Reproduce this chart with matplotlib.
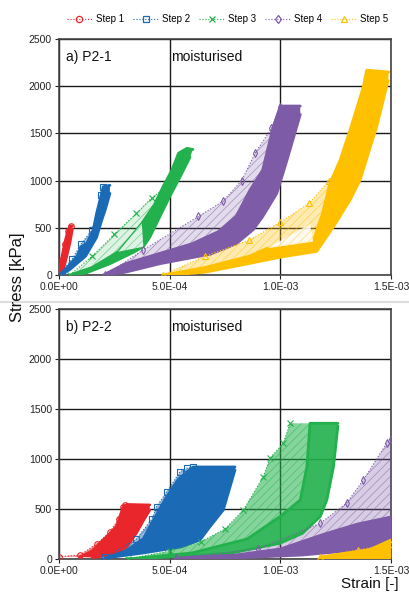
import matplotlib
matplotlib.use("Agg")
import matplotlib.pyplot as plt
from matplotlib.lines import Line2D
from matplotlib.colors import to_rgba

plt.rcParams['font.family'] = ['Liberation Sans', 'DejaVu Sans']
plt.rcParams['hatch.linewidth'] = 0.5

# ---------------- data ----------------
step_names = ["Step 1", "Step 2", "Step 3", "Step 4", "Step 5"]
step_colors = ["#E8262B", "#1B6AB5", "#22B14C", "#7D5BA6", "#FFC000"]
step_markers = ["o", "s", "x", "d", "^"]
panel_labels = ["a) P2-1", "b) P2-2"]
condition = "moisturised"
x_ticks = [0.0, 5.0e-4, 1.0e-3, 1.5e-3]
y_ticks = [0, 500, 1000, 1500, 2000, 2500]

# ---- Panel a) P2-1 ----
# thin: outer loading curve (sparse dotted), up/dn: edges of the dense band
a_s1_thin_x = [0, 1.0e-5, 2.5e-5, 4.0e-5, 5.5e-5]
a_s1_thin_y = [0, 150, 330, 470, 520]
a_s1_up_x = [0, 1.0e-5, 2.5e-5, 4.0e-5, 5.0e-5, 6.0e-5]
a_s1_up_y = [0, 150, 330, 470, 520, 520]
a_s1_dn_x = [6.0e-5, 5.0e-5, 3.5e-5, 2.0e-5, 5.0e-6]
a_s1_dn_y = [480, 350, 200, 60, 0]

a_s2_thin_x = [0, 6.0e-5, 1.0e-4, 1.5e-4, 1.9e-4, 2.0e-4]
a_s2_thin_y = [0, 170, 330, 480, 850, 935]
a_s2_up_x = [0, 3.0e-5, 8.0e-5, 1.0e-4, 1.25e-4, 1.55e-4, 1.7e-4, 1.85e-4, 2.0e-4, 2.3e-4]
a_s2_up_y = [0, 60, 194, 300, 335, 477, 653, 794, 935, 950]
a_s2_dn_x = [2.3e-4, 2.1e-4, 1.9e-4, 1.7e-4, 1.45e-4, 1.2e-4, 9.0e-5, 5.0e-5, 1.0e-5]
a_s2_dn_y = [865, 700, 560, 400, 300, 200, 140, 60, 0]

a_s3_thin_x = [5.0e-5, 1.5e-4, 2.5e-4, 3.5e-4, 4.2e-4, 4.87e-4]
a_s3_thin_y = [0, 200, 430, 653, 820, 935]
a_s3_up_x = [5.0e-5, 1.5e-4, 2.68e-4, 3.3e-4, 3.74e-4, 4.3e-4, 4.7e-4, 5.1e-4, 5.4e-4, 5.78e-4, 6.05e-4]
a_s3_up_y = [0, 80, 247, 420, 547, 740, 935, 1110, 1290, 1342, 1330]
a_s3_dn_x = [5.92e-4, 5.47e-4, 5.0e-4, 4.56e-4, 4.1e-4, 3.81e-4, 3.36e-4, 2.3e-4, 1.2e-4, 6.0e-5]
a_s3_dn_y = [1250, 1040, 830, 620, 400, 300, 240, 120, 20, 0]
a_s3_hole_x = [2.68e-4, 3.74e-4, 3.81e-4]
a_s3_hole_y = [247, 547, 300]

a_s4_thin_x = [2.1e-4, 3.8e-4, 6.3e-4, 7.4e-4, 8.25e-4, 8.86e-4, 9.6e-4, 1.0e-3]
a_s4_thin_y = [0, 265, 620, 780, 1000, 1290, 1555, 1780]
a_s4_up_x = [2.0e-4, 3.0e-4, 4.56e-4, 6.0e-4, 7.2e-4, 8.0e-4, 8.63e-4, 9.2e-4, 9.68e-4, 1.0e-3, 1.09e-3]
a_s4_up_y = [0, 120, 230, 330, 460, 620, 900, 1112, 1571, 1790, 1790]
a_s4_dn_x = [1.09e-3, 1.03e-3, 9.84e-4, 9.2e-4, 8.77e-4, 8.0e-4, 6.82e-4, 4.56e-4, 3.0e-4, 2.1e-4]
a_s4_dn_y = [1700, 1218, 865, 618, 480, 330, 220, 120, 30, 0]

a_s5_thin_x = [4.7e-4, 6.6e-4, 8.6e-4, 1.0e-3, 1.13e-3, 1.22e-3]
a_s5_thin_y = [0, 200, 370, 560, 760, 1000]
a_s5_up_x = [4.7e-4, 6.6e-4, 8.6e-4, 9.4e-4, 1.148e-3, 1.19e-3, 1.224e-3, 1.27e-3, 1.315e-3, 1.375e-3, 1.39e-3, 1.49e-3]
a_s5_up_y = [0, 80, 200, 283, 353, 650, 971, 1218, 1536, 1995, 2170, 2150]
a_s5_dn_x = [1.487e-3, 1.435e-3, 1.36e-3, 1.315e-3, 1.24e-3, 1.164e-3, 1.012e-3, 8.63e-4, 6.6e-4, 5.0e-4]
a_s5_dn_y = [2060, 1571, 1006, 795, 512, 250, 194, 124, 30, 0]
a_s5_hole_x = [9.4e-4, 1.134e-3, 1.148e-3]
a_s5_hole_y = [283, 540, 353]

# ---- Panel b) P2-2 ----
b_s1_thin_x = [0, 9.5e-5, 1.7e-4, 2.3e-4, 2.7e-4, 2.9e-4, 3.0e-4]
b_s1_thin_y = [23, 40, 150, 270, 400, 523, 540]
b_s1_up_x = [9.5e-5, 1.5e-4, 2.0e-4, 2.6e-4, 2.9e-4, 3.06e-4, 4.1e-4]
b_s1_up_y = [20, 80, 190, 323, 523, 545, 540]
b_s1_dn_x = [4.1e-4, 3.8e-4, 3.5e-4, 3.06e-4, 2.5e-4, 1.5e-4]
b_s1_dn_y = [490, 380, 260, 123, 40, 15]

b_s2_thin_x = [2.1e-4, 3.5e-4, 4.2e-4, 4.41e-4, 4.87e-4, 5.47e-4, 5.77e-4, 6.06e-4]
b_s2_thin_y = [20, 200, 400, 523, 673, 873, 907, 920]
b_s2_up_x = [2.1e-4, 3.0e-4, 3.8e-4, 4.3e-4, 4.8e-4, 5.4e-4, 6.06e-4, 7.95e-4]
b_s2_up_y = [10, 80, 200, 400, 600, 800, 920, 920]
b_s2_dn_x = [7.95e-4, 7.73e-4, 7.42e-4, 6.82e-4, 6.37e-4, 5.5e-4, 3.8e-4, 2.1e-4]
b_s2_dn_y = [890, 723, 490, 323, 190, 120, 60, 10]

b_s3_thin_x = [3.1e-4, 5.0e-4, 6.4e-4, 7.5e-4, 8.33e-4, 9.23e-4, 9.53e-4, 1.013e-3, 1.044e-3]
b_s3_thin_y = [0, 80, 170, 300, 490, 823, 1007, 1157, 1357]
b_s3_up_x = [3.1e-4, 6.0e-4, 8.5e-4, 9.98e-4, 1.09e-3, 1.12e-3, 1.134e-3, 1.26e-3]
b_s3_up_y = [0, 60, 200, 423, 590, 923, 1357, 1357]
b_s3_dn_x = [1.26e-3, 1.24e-3, 1.21e-3, 1.18e-3, 1.10e-3, 9.98e-4, 7.73e-4, 5.0e-4, 3.1e-4]
b_s3_dn_y = [1330, 923, 590, 423, 257, 157, 57, 20, 0]

b_s4_thin_x = [5.3e-4, 9.0e-4, 1.18e-3, 1.3e-3, 1.375e-3, 1.48e-3, 1.5e-3]
b_s4_thin_y = [10, 100, 357, 560, 790, 1157, 1200]
b_s4_up_x = [5.3e-4, 8.0e-4, 1.0e-3, 1.2e-3, 1.35e-3, 1.5e-3]
b_s4_up_y = [10, 40, 100, 250, 350, 420]
b_s4_dn_x = [1.5e-3, 1.3e-3, 1.1e-3, 8.0e-4, 5.3e-4]
b_s4_dn_y = [160, 80, 40, 10, 0]

b_s5_thin_x = [1.18e-3, 1.35e-3, 1.5e-3]
b_s5_thin_y = [20, 90, 150]
b_s5_up_x = [1.18e-3, 1.3e-3, 1.4e-3, 1.5e-3]
b_s5_up_y = [20, 60, 90, 190]
b_s5_dn_x = [1.5e-3, 1.3e-3, 1.18e-3]
b_s5_dn_y = [10, 5, 0]

panels = [
    [(a_s1_thin_x, a_s1_thin_y, a_s1_up_x, a_s1_up_y, a_s1_dn_x, a_s1_dn_y, None, None),
     (a_s2_thin_x, a_s2_thin_y, a_s2_up_x, a_s2_up_y, a_s2_dn_x, a_s2_dn_y, None, None),
     (a_s3_thin_x, a_s3_thin_y, a_s3_up_x, a_s3_up_y, a_s3_dn_x, a_s3_dn_y, a_s3_hole_x, a_s3_hole_y),
     (a_s4_thin_x, a_s4_thin_y, a_s4_up_x, a_s4_up_y, a_s4_dn_x, a_s4_dn_y, None, None),
     (a_s5_thin_x, a_s5_thin_y, a_s5_up_x, a_s5_up_y, a_s5_dn_x, a_s5_dn_y, a_s5_hole_x, a_s5_hole_y)],
    [(b_s1_thin_x, b_s1_thin_y, b_s1_up_x, b_s1_up_y, b_s1_dn_x, b_s1_dn_y, None, None),
     (b_s2_thin_x, b_s2_thin_y, b_s2_up_x, b_s2_up_y, b_s2_dn_x, b_s2_dn_y, None, None),
     (b_s3_thin_x, b_s3_thin_y, b_s3_up_x, b_s3_up_y, b_s3_dn_x, b_s3_dn_y, None, None),
     (b_s4_thin_x, b_s4_thin_y, b_s4_up_x, b_s4_up_y, b_s4_dn_x, b_s4_dn_y, None, None),
     (b_s5_thin_x, b_s5_thin_y, b_s5_up_x, b_s5_up_y, b_s5_dn_x, b_s5_dn_y, None, None)],
]

# styles
fan_alpha = [[0.3, 0.3, 0.15, 0.22, 0.3], [0.5, 0.45, 0.55, 0.3, 0.4]]
band_alpha = [[1.0, 1.0, 1.0, 1.0, 1.0], [1.0, 1.0, 0.9, 1.0, 1.0]]

# ---------------- figure ----------------
fig = plt.figure(figsize=(4.10, 6.01), dpi=100)
ax_pos = [[0.1439, 0.5424, 0.8098, 0.3927], [0.1439, 0.0699, 0.8098, 0.4160]]

for p, pos in enumerate(ax_pos):
    ax = fig.add_axes(pos)
    ax.set_xlim(0, 1.5e-3)
    ax.set_ylim(0, 2500)
    ax.set_xticks(x_ticks)
    ax.set_xticklabels(["%.1E" % v for v in x_ticks])
    ax.set_yticks(y_ticks)
    ax.tick_params(labelsize=7.5, length=3, width=0.8, colors="#222222", pad=2)
    ax.grid(True, color="#1a1a1a", linewidth=1.0)
    ax.set_axisbelow(True)
    for sp in ax.spines.values():
        sp.set_color("#444444")
        sp.set_linewidth(1.2)
    for i, (tx, ty, ux, uy, dx, dy, hx, hy) in enumerate(panels[p]):
        c = step_colors[i]
        # fan of sparse cycles between outer curve and dense band
        ax.fill(tx + ux[::-1], ty + uy[::-1], facecolor=to_rgba(c, fan_alpha[p][i]),
                edgecolor=to_rgba(c, 0.6), hatch="////", lw=0, zorder=3)
        # dense band
        ax.fill(ux + dx, uy + dy, color=c, alpha=band_alpha[p][i], lw=0, zorder=4)
        ax.plot(ux, uy, color=c, lw=2, solid_capstyle="round", solid_joinstyle="round", zorder=4)
        ax.plot(dx, dy, color=c, lw=2, solid_capstyle="round", solid_joinstyle="round", zorder=4)
        if hx is not None:
            ax.fill(hx, hy, facecolor=to_rgba("white", 0.85), edgecolor=to_rgba(c, 0.5),
                    hatch="////", lw=0, zorder=4.5)
        ax.plot(tx, ty, color=c, lw=0.8, ls=":", marker=step_markers[i], ms=4,
                mfc="none", mec=c, mew=0.8, zorder=5)
    ax.text(0.02, 0.955, panel_labels[p], transform=ax.transAxes, fontsize=10,
            va="top", ha="left", color="#111111")
    ax.text(0.338, 0.955, condition, transform=ax.transAxes, fontsize=10,
            va="top", ha="left", color="#111111")

# separator line between panels
fig.add_artist(Line2D([0.0, 1.0], [1 - 301.5 / 601, 1 - 301.5 / 601], color="#dddddd", lw=1.5))

fig.text(0.042, 1 - 277 / 601, "Stress [kPa]", rotation=90, fontsize=12,
         ha="center", va="center", color="#111111")
fig.text(370 / 410, 1 - 584 / 601, "Strain [-]", fontsize=11, ha="center",
         va="center", color="#111111")

handles = [Line2D([], [], color=step_colors[i], lw=0.8, ls=":", marker=step_markers[i],
                  ms=4.5, mfc="none", mec=step_colors[i], mew=0.9) for i in range(5)]
fig.legend(handles, step_names, loc="center", bbox_to_anchor=(0.555, 1 - 19 / 601),
           ncol=5, frameon=False, fontsize=7, handlelength=2.5, columnspacing=1.0,
           handletextpad=0.4)

fig.savefig("out.png", dpi=100)
